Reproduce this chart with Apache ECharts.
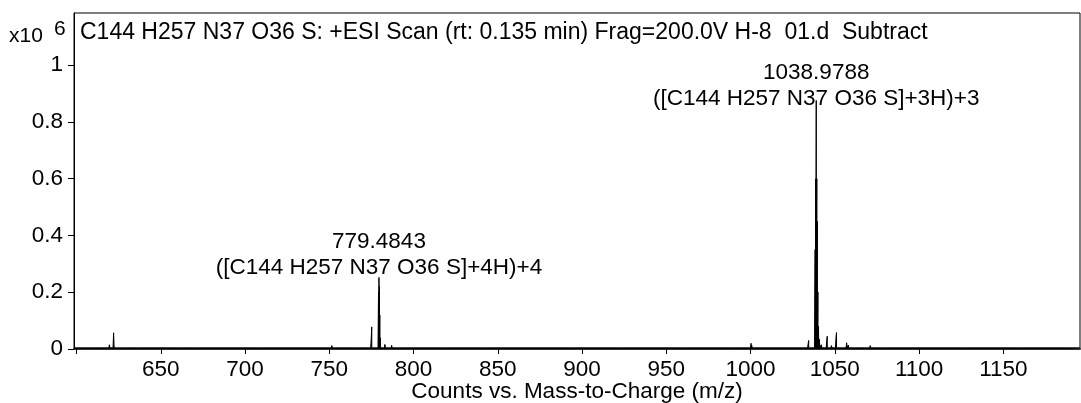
<!DOCTYPE html>
<html><head><meta charset="utf-8">
<script src="https://cdn.jsdelivr.net/npm/echarts@6/dist/echarts.min.js"></script>
<style>html,body{margin:0;padding:0;background:#fff}#c{width:1081px;height:403px}</style>
</head><body><div id="c"></div>
<script>
// Spectrum peaks (m/z, counts in units of 1e6)
const peakMz = [603.5, 610.2, 616.0, 619.5, 622.0, 624.5, 630.0, 636.0, 637.5, 644.0, 654.0, 662.0, 671.0, 686.0, 709.0, 730.0,
  751.5, 766.0, 774.9, 775.2, 779.23, 779.48, 779.73, 779.98, 780.23, 783.0, 787.0, 791.0, 800.5, 818.0, 842.0, 893.0, 925.0, 963.0, 987.0,
  1000.3, 1000.7, 1034.2, 1034.5, 1038.32, 1038.65, 1038.98, 1039.31, 1039.65, 1039.98, 1040.31, 1040.8, 1042.0,
  1045.2, 1045.5, 1048.0, 1050.7, 1051.0, 1054.0, 1057.0, 1058.0, 1062.0, 1071.0, 1081.0, 1095.0, 1125.0, 1160.0, 1190.0];
const peakInt = [0.006, 0.005, 0.006, 0.015, 0.057, 0.007, 0.005, 0.010, 0.008, 0.006, 0.009, 0.005, 0.005, 0.005, 0.006, 0.005,
  0.012, 0.006, 0.040, 0.078, 0.200, 0.252, 0.220, 0.120, 0.040, 0.016, 0.013, 0.009, 0.008, 0.006, 0.006, 0.005, 0.005, 0.005, 0.005,
  0.020, 0.012, 0.020, 0.030, 0.350, 0.600, 0.876, 0.600, 0.450, 0.200, 0.080, 0.035, 0.015,
  0.030, 0.045, 0.012, 0.040, 0.058, 0.010, 0.022, 0.014, 0.008, 0.012, 0.006, 0.006, 0.006, 0.005, 0.005];
const baseLevel = 0.004;
const xTicks = [600, 650, 700, 750, 800, 850, 900, 950, 1000, 1050, 1100, 1150];
const xLabels = [650, 700, 750, 800, 850, 900, 950, 1000, 1050, 1100, 1150];
const yTicks = [0, 0.2, 0.4, 0.6, 0.8, 1];
const annotations = [
  {mz: 1038.9788, value: 0.876, text: '1038.9788\n([C144 H257 N37 O36 S]+3H)+3'},
  {mz: 779.4843, value: 0.252, text: '779.4843\n([C144 H257 N37 O36 S]+4H)+4'}
];
const titleText = 'C144 H257 N37 O36 S: +ESI Scan (rt: 0.135 min) Frag=200.0V H-8  01.d  Subtract';
const xName = 'Counts vs. Mass-to-Charge (m/z)';
const xMin = 598.5, xMax = 1195.5, yMax = 1.184;

const hw = 0.32;
const pts = [[xMin, baseLevel]];
for (let i = 0; i < peakMz.length; i++) {
  pts.push([peakMz[i] - hw, baseLevel], [peakMz[i], peakInt[i]], [peakMz[i] + hw, baseLevel]);
}
pts.push([xMax, baseLevel]);
pts.sort((a, b) => a[0] - b[0]);

const FONT = 'Liberation Sans';
const FS = 22.5;
const labelDist = [-11, -3];
const chart = echarts.init(document.getElementById('c'), null, {renderer: 'canvas'});
chart.setOption({
  animation: false,
  textStyle: {fontFamily: FONT, color: '#000'},
  grid: {left: 74, right: 1, top: 13, bottom: 54, show: true, borderColor: '#000', borderWidth: 1,
    containLabel: false, outerBoundsMode: 'none'},
  xAxis: {
    type: 'value', min: xMin, max: xMax,
    name: xName, nameLocation: 'middle', nameGap: 31, nameMoveOverlap: false,
    nameTextStyle: {fontFamily: FONT, fontSize: FS, color: '#000'},
    axisLine: {show: true, onZero: false, lineStyle: {color: '#333', width: 2}},
    axisTick: {show: true, inside: false, length: 5, lineStyle: {color: '#000'}, customValues: xTicks},
    axisLabel: {fontFamily: FONT, fontSize: FS, color: '#000', margin: 9, customValues: xLabels,
      formatter: v => String(v)},
    splitLine: {show: false}
  },
  yAxis: {
    type: 'value', min: 0, max: yMax,
    axisLine: {show: true, lineStyle: {color: '#000'}},
    axisTick: {show: true, length: 6, lineStyle: {color: '#000'}, customValues: yTicks},
    axisLabel: {fontFamily: FONT, fontSize: FS, color: '#000', margin: 11, customValues: yTicks,
      formatter: v => String(+v.toFixed(1))},
    splitLine: {show: false}
  },
  graphic: [
    {type: 'text', left: 80, top: 21, style: {text: titleText, font: '23px "Liberation Sans"', fill: '#000'}},
    {type: 'text', left: 9, top: 26, style: {text: 'x10', font: '21px "Liberation Sans"', fill: '#000'}},
    {type: 'text', left: 54, top: 19, style: {text: '6', font: '21px "Liberation Sans"', fill: '#000'}}
  ],
  series: [{
    type: 'line', data: pts, symbol: 'none', silent: true,
    lineStyle: {color: '#000', width: 1}, areaStyle: {color: '#000', opacity: 1, origin: 'start'},
    markPoint: {
      symbol: 'circle', symbolSize: 0,
      label: {show: true, position: 'top', fontFamily: FONT, fontSize: FS, color: '#000',
        lineHeight: 26, align: 'center', formatter: p => p.data.text},
      data: annotations.map((a, i) => ({coord: [a.mz, a.value], text: a.text, label: {distance: labelDist[i]}}))
    }
  }]
});
</script></body></html>
